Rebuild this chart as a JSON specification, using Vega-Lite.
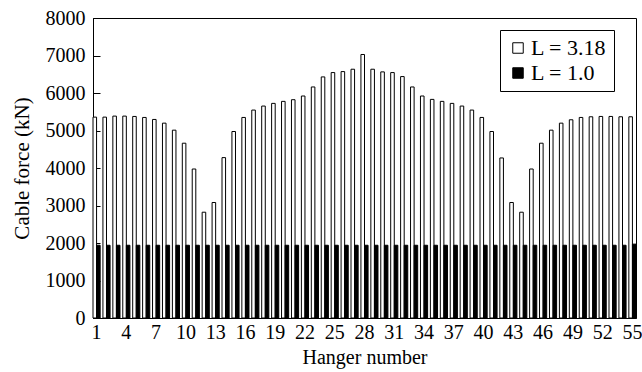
{
  "$schema": "https://vega.github.io/schema/vega-lite/v6.json",
  "autosize": "none",
  "width": 543,
  "height": 300,
  "padding": {"left": 93, "top": 18, "right": 6, "bottom": 54},
  "background": "white",
  "config": {
    "view": {"stroke": "black", "strokeWidth": 1},
    "axis": {"labelFont": "Liberation Serif", "titleFont": "Liberation Serif"},
    "legend": {"labelFont": "Liberation Serif"}
  },
  "data": {"values": [
    {"h":1,"s":"L = 3.18","v":5357},{"h":2,"s":"L = 3.18","v":5357},{"h":3,"s":"L = 3.18","v":5384},{"h":4,"s":"L = 3.18","v":5384},{"h":5,"s":"L = 3.18","v":5375},
    {"h":6,"s":"L = 3.18","v":5348},{"h":7,"s":"L = 3.18","v":5295},{"h":8,"s":"L = 3.18","v":5196},{"h":9,"s":"L = 3.18","v":5009},{"h":10,"s":"L = 3.18","v":4661},
    {"h":11,"s":"L = 3.18","v":3973},{"h":12,"s":"L = 3.18","v":2821},{"h":13,"s":"L = 3.18","v":3080},{"h":14,"s":"L = 3.18","v":4277},{"h":15,"s":"L = 3.18","v":4973},
    {"h":16,"s":"L = 3.18","v":5348},{"h":17,"s":"L = 3.18","v":5545},{"h":18,"s":"L = 3.18","v":5652},{"h":19,"s":"L = 3.18","v":5723},{"h":20,"s":"L = 3.18","v":5777},
    {"h":21,"s":"L = 3.18","v":5821},{"h":22,"s":"L = 3.18","v":5920},{"h":23,"s":"L = 3.18","v":6161},{"h":24,"s":"L = 3.18","v":6429},{"h":25,"s":"L = 3.18","v":6545},
    {"h":26,"s":"L = 3.18","v":6571},{"h":27,"s":"L = 3.18","v":6634},{"h":28,"s":"L = 3.18","v":7027},{"h":29,"s":"L = 3.18","v":6634},{"h":30,"s":"L = 3.18","v":6563},
    {"h":31,"s":"L = 3.18","v":6545},{"h":32,"s":"L = 3.18","v":6438},{"h":33,"s":"L = 3.18","v":6161},{"h":34,"s":"L = 3.18","v":5920},{"h":35,"s":"L = 3.18","v":5830},
    {"h":36,"s":"L = 3.18","v":5777},{"h":37,"s":"L = 3.18","v":5723},{"h":38,"s":"L = 3.18","v":5652},{"h":39,"s":"L = 3.18","v":5545},{"h":40,"s":"L = 3.18","v":5348},
    {"h":41,"s":"L = 3.18","v":4973},{"h":42,"s":"L = 3.18","v":4268},{"h":43,"s":"L = 3.18","v":3080},{"h":44,"s":"L = 3.18","v":2821},{"h":45,"s":"L = 3.18","v":3973},
    {"h":46,"s":"L = 3.18","v":4661},{"h":47,"s":"L = 3.18","v":5009},{"h":48,"s":"L = 3.18","v":5196},{"h":49,"s":"L = 3.18","v":5286},{"h":50,"s":"L = 3.18","v":5348},
    {"h":51,"s":"L = 3.18","v":5366},{"h":52,"s":"L = 3.18","v":5375},{"h":53,"s":"L = 3.18","v":5375},{"h":54,"s":"L = 3.18","v":5366},{"h":55,"s":"L = 3.18","v":5366},
    {"h":1,"s":"L = 1.0","v":1940},{"h":2,"s":"L = 1.0","v":1940},{"h":3,"s":"L = 1.0","v":1940},{"h":4,"s":"L = 1.0","v":1940},{"h":5,"s":"L = 1.0","v":1940},
    {"h":6,"s":"L = 1.0","v":1940},{"h":7,"s":"L = 1.0","v":1940},{"h":8,"s":"L = 1.0","v":1940},{"h":9,"s":"L = 1.0","v":1940},{"h":10,"s":"L = 1.0","v":1940},
    {"h":11,"s":"L = 1.0","v":1940},{"h":12,"s":"L = 1.0","v":1940},{"h":13,"s":"L = 1.0","v":1940},{"h":14,"s":"L = 1.0","v":1940},{"h":15,"s":"L = 1.0","v":1940},
    {"h":16,"s":"L = 1.0","v":1940},{"h":17,"s":"L = 1.0","v":1940},{"h":18,"s":"L = 1.0","v":1940},{"h":19,"s":"L = 1.0","v":1940},{"h":20,"s":"L = 1.0","v":1940},
    {"h":21,"s":"L = 1.0","v":1940},{"h":22,"s":"L = 1.0","v":1940},{"h":23,"s":"L = 1.0","v":1940},{"h":24,"s":"L = 1.0","v":1940},{"h":25,"s":"L = 1.0","v":1940},
    {"h":26,"s":"L = 1.0","v":1940},{"h":27,"s":"L = 1.0","v":1940},{"h":28,"s":"L = 1.0","v":1940},{"h":29,"s":"L = 1.0","v":1940},{"h":30,"s":"L = 1.0","v":1940},
    {"h":31,"s":"L = 1.0","v":1940},{"h":32,"s":"L = 1.0","v":1940},{"h":33,"s":"L = 1.0","v":1940},{"h":34,"s":"L = 1.0","v":1940},{"h":35,"s":"L = 1.0","v":1940},
    {"h":36,"s":"L = 1.0","v":1940},{"h":37,"s":"L = 1.0","v":1940},{"h":38,"s":"L = 1.0","v":1940},{"h":39,"s":"L = 1.0","v":1940},{"h":40,"s":"L = 1.0","v":1940},
    {"h":41,"s":"L = 1.0","v":1940},{"h":42,"s":"L = 1.0","v":1940},{"h":43,"s":"L = 1.0","v":1940},{"h":44,"s":"L = 1.0","v":1940},{"h":45,"s":"L = 1.0","v":1940},
    {"h":46,"s":"L = 1.0","v":1940},{"h":47,"s":"L = 1.0","v":1940},{"h":48,"s":"L = 1.0","v":1940},{"h":49,"s":"L = 1.0","v":1940},{"h":50,"s":"L = 1.0","v":1940},
    {"h":51,"s":"L = 1.0","v":1940},{"h":52,"s":"L = 1.0","v":1940},{"h":53,"s":"L = 1.0","v":1940},{"h":54,"s":"L = 1.0","v":1940},{"h":55,"s":"L = 1.0","v":1970}
  ]},
  "mark": {"type": "bar", "stroke": "black", "strokeWidth": 1},
  "encoding": {
    "x": {
      "field": "h",
      "type": "ordinal",
      "sort": "ascending",
      "scale": {"paddingInner": 0.28, "paddingOuter": 0},
      "axis": {
        "title": "Hanger number",
        "values": [1,4,7,10,13,16,19,22,25,28,31,34,37,40,43,46,49,52,55],
        "labelAngle": 0,
        "labelFontSize": 20,
        "labelColor": "black",
        "labelPadding": 4,
        "ticks": false,
        "domainColor": "black",
        "titleFontSize": 20,
        "titleFontWeight": "normal",
        "titleColor": "black",
        "titlePadding": 5
      }
    },
    "xOffset": {
      "field": "s",
      "type": "nominal",
      "scale": {"domain": ["L = 3.18", "L = 1.0"]}
    },
    "y": {
      "field": "v",
      "type": "quantitative",
      "scale": {"domain": [0, 8000], "nice": false},
      "axis": {
        "title": "Cable force (kN)",
        "values": [0,1000,2000,3000,4000,5000,6000,7000,8000],
        "format": "d",
        "grid": false,
        "tickSize": -7,
        "tickColor": "black",
        "domainColor": "black",
        "labelFontSize": 20,
        "labelColor": "black",
        "labelPadding": 15,
        "titleFontSize": 21,
        "titleFontWeight": "normal",
        "titleColor": "black",
        "titlePadding": 13
      }
    },
    "color": {
      "field": "s",
      "type": "nominal",
      "scale": {"domain": ["L = 3.18", "L = 1.0"], "range": ["white", "black"]},
      "legend": {
        "title": null,
        "orient": "none",
        "legendX": 407,
        "legendY": 12,
        "symbolType": "square",
        "symbolSize": 110,
        "symbolStrokeColor": "black",
        "symbolStrokeWidth": 1,
        "labelFontSize": 22,
        "labelColor": "black",
        "labelOffset": 2,
        "rowPadding": 3,
        "strokeColor": "black",
        "fillColor": "white",
        "padding": 7
      }
    }
  }
}
